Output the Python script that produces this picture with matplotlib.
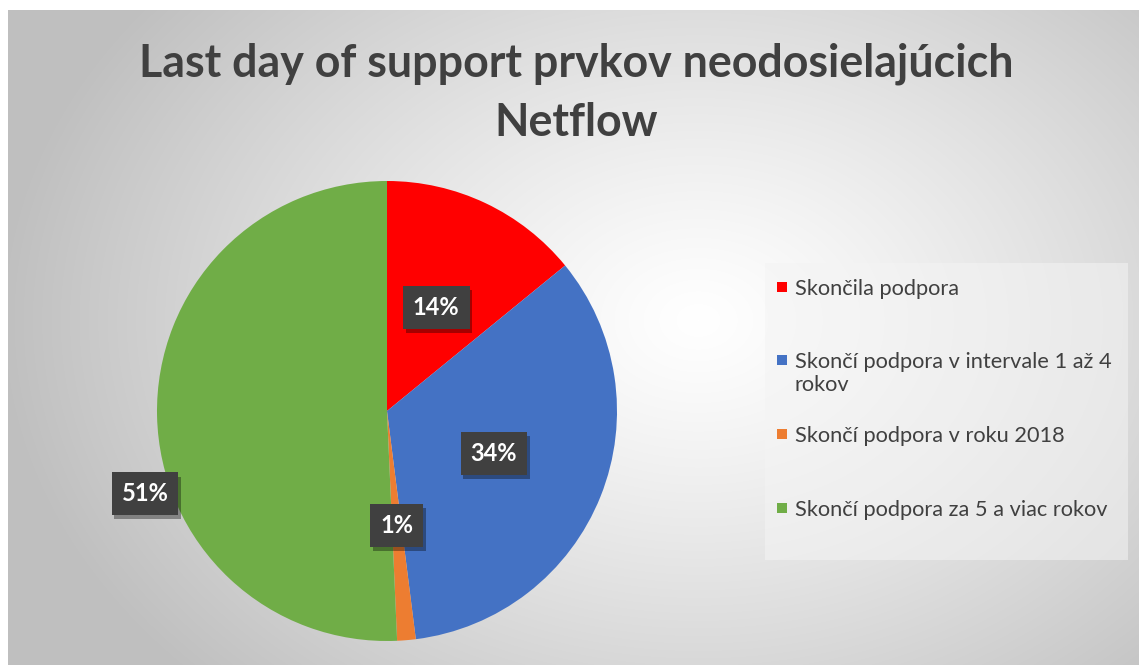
import numpy as np
import matplotlib
matplotlib.use('Agg')
import matplotlib.pyplot as plt
import matplotlib.patheffects as pe
from matplotlib.patches import Rectangle

# data
categories = ['Skončila podpora',
              'Skončí podpora v intervale 1 až 4\nrokov',
              'Skončí podpora v roku 2018',
              'Skončí podpora za 5 a viac rokov']
values = [14.1, 33.9, 1.3, 50.7]
pct_labels = ['14%', '34%', '1%', '51%']
colors = ['#ff0000', '#4472c4', '#ed7d31', '#70ad47']

plt.rcParams['font.family'] = ['Lato', 'DejaVu Sans']

W, H = 1139, 665
fig = plt.figure(figsize=(W / 100, H / 100), dpi=100)
fig.patch.set_facecolor('white')

# pozadie s radialnym prechodom (plocha grafu zacina kusok od okraja)
bg = fig.add_axes([8 / W, 0, 1 - 8 / W, 1 - 10 / H])
bg.set_axis_off()
yy, xx = np.mgrid[0:H - 10, 0:W - 8]
cx, cy = 690, 310
d = np.sqrt(((xx - cx) / 700.0) ** 2 + ((yy - cy) / 520.0) ** 2)
d = np.clip(d, 0, 1)
shade = 1.0 - 0.25 * d ** 1.2
img = np.dstack([shade, shade, shade])
bg.imshow(img, aspect='auto', extent=(0, 1, 0, 1), origin='upper')
bg.set_xlim(0, 1)
bg.set_ylim(0, 1)

# nadpis
fig.text(576 / W, 1 - 64 / H, 'Last day of support prvkov neodosielajúcich',
         ha='center', va='center', fontsize=32.2, fontweight='bold', color='#404040')
fig.text(576 / W, 1 - 123 / H, 'Netflow',
         ha='center', va='center', fontsize=32.2, fontweight='bold', color='#404040')

# kolac
pcx, pcy, r = 387, 411, 230
ax = fig.add_axes([(pcx - r) / W, (H - pcy - r) / H, 2 * r / W, 2 * r / H])
wedges, _ = ax.pie(values, colors=colors, startangle=90, counterclock=False,
                   radius=1.0, wedgeprops=dict(linewidth=0))
ax.set_xlim(-1, 1)
ax.set_ylim(-1, 1)
ax.set_axis_off()

# popisky hodnot
label_pos = [0.50, 0.50, 0.50, None]
for w, lab, dist in zip(wedges, pct_labels, label_pos):
    ang = np.deg2rad((w.theta1 + w.theta2) / 2)
    if dist is None:
        x, y = -1.052, -0.36
    else:
        x, y = dist * np.cos(ang), dist * np.sin(ang)
    t = ax.text(x, y, lab, ha='center', va='center', fontsize=17, fontweight='bold',
                color='white', clip_on=False,
                bbox=dict(boxstyle='square,pad=0.42', facecolor='#404040',
                          edgecolor='none'))
    t.get_bbox_patch().set_path_effects([
        pe.withSimplePatchShadow(offset=(2, -3), shadow_rgbFace='black', alpha=0.35),
        pe.Normal()])

# legenda
fig.patches.append(Rectangle((765 / W, 1 - 560 / H), (1128 - 765) / W, (560 - 263) / H,
                             transform=fig.transFigure, facecolor='#f4f4f4',
                             edgecolor='none', alpha=0.55, zorder=1))

leg_y = [287, 360, 434, 508]
sq = 10
for c, lab, y in zip(colors, categories, leg_y):
    fig.patches.append(Rectangle((777 / W, 1 - (y + sq / 2) / H), sq / W, sq / H,
                                 transform=fig.transFigure, facecolor=c,
                                 edgecolor='none', zorder=2))
    for i, line in enumerate(lab.split('\n')):
        fig.text(795 / W, 1 - (y + 23 * i) / H, line, ha='left', va='center_baseline',
                 fontsize=15.7, color='#404040', zorder=3)

fig.savefig('out.png', dpi=100)
